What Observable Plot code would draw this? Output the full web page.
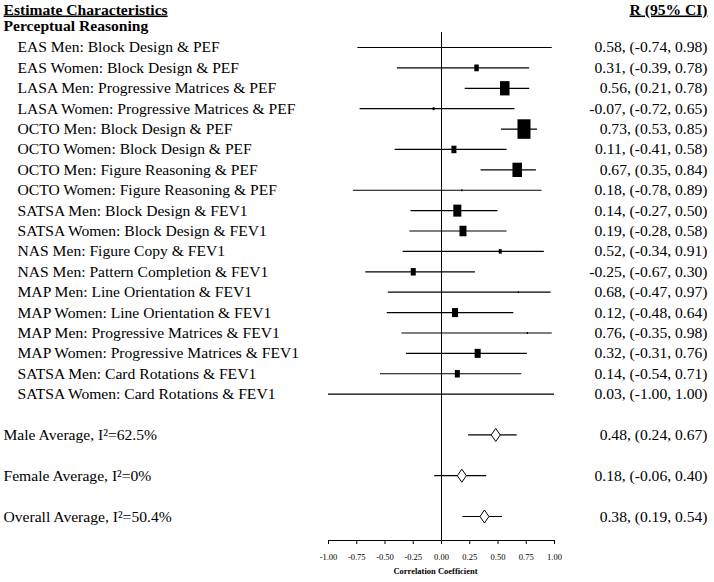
<!DOCTYPE html>
<html>
<head>
<meta charset="utf-8">
<script src="https://cdn.jsdelivr.net/npm/d3@7"></script>
<script src="https://cdn.jsdelivr.net/npm/@observablehq/plot@0.6"></script>
<style>
  body { margin: 0; background: white; }
</style>
</head>
<body>
<div id="chart"></div>
<script>
// ---- data ----
const groupLabel = "Perceptual Reasoning";
const studies = [
  "EAS Men: Block Design & PEF",
  "EAS Women: Block Design & PEF",
  "LASA Men: Progressive Matrices & PEF",
  "LASA Women: Progressive Matrices & PEF",
  "OCTO Men: Block Design & PEF",
  "OCTO Women: Block Design & PEF",
  "OCTO Men: Figure Reasoning & PEF",
  "OCTO Women: Figure Reasoning & PEF",
  "SATSA Men: Block Design & FEV1",
  "SATSA Women: Block Design & FEV1",
  "NAS Men: Figure Copy & FEV1",
  "NAS Men: Pattern Completion & FEV1",
  "MAP Men: Line Orientation & FEV1",
  "MAP Women: Line Orientation & FEV1",
  "MAP Men: Progressive Matrices & FEV1",
  "MAP Women: Progressive Matrices & FEV1",
  "SATSA Men: Card Rotations & FEV1",
  "SATSA Women: Card Rotations & FEV1"
];
const estimate = [0.58, 0.31, 0.56, -0.07, 0.73, 0.11, 0.67, 0.18, 0.14, 0.19, 0.52, -0.25, 0.68, 0.12, 0.76, 0.32, 0.14, 0.03];
const lower    = [-0.74, -0.39, 0.21, -0.72, 0.53, -0.41, 0.35, -0.78, -0.27, -0.28, -0.34, -0.67, -0.47, -0.48, -0.35, -0.31, -0.54, -1.00];
const upper    = [0.98, 0.78, 0.78, 0.65, 0.85, 0.58, 0.84, 0.89, 0.50, 0.58, 0.91, 0.30, 0.97, 0.64, 0.98, 0.76, 0.71, 1.00];
const weight   = [0.3, 4.5, 9.5, 2, 13, 5, 9.5, 1.2, 8, 7, 3, 5, 1.2, 6, 1.2, 6, 5, 0.3];

const summaryLabels = ["Male Average, I\u00B2=62.5%", "Female Average, I\u00B2=0%", "Overall Average, I\u00B2=50.4%"];
const summaryEstimate = [0.48, 0.18, 0.38];
const summaryLower = [0.24, -0.06, 0.19];
const summaryUpper = [0.67, 0.40, 0.54];

const tickValues = [-1, -0.75, -0.5, -0.25, 0, 0.25, 0.5, 0.75, 1];
const headerLeft = "Estimate Characteristics";
const headerRight = "R (95% CI)";
const axisTitle = "Correlation Coefficient";

// ---- tables ----
const fmt = (v) => v.toFixed(2);
const studyRows = studies.map((label, i) => ({
  label, r: estimate[i], lo: lower[i], hi: upper[i], w: weight[i],
  ci: `${fmt(estimate[i])}, (${fmt(lower[i])}, ${fmt(upper[i])})`
}));
const summaryRows = summaryLabels.map((label, i) => ({
  label, r: summaryEstimate[i], lo: summaryLower[i], hi: summaryUpper[i],
  ci: `${fmt(summaryEstimate[i])}, (${fmt(summaryLower[i])}, ${fmt(summaryUpper[i])})`
}));
const yDomain = [groupLabel, ...studies, "gap1", summaryLabels[0], "gap2", summaryLabels[1], "gap3", summaryLabels[2]];

// custom symbols: weighted box (taller than wide) and summary diamond
const rectSymbol = {
  draw(context, size) {
    const w = Math.sqrt(size / 1.5), h = 1.5 * w;
    context.rect(-w / 2, -h / 2, w, h);
  }
};
const diamondSymbol = {
  draw(context) {
    context.moveTo(0, -6.5);
    context.lineTo(4.5, 0);
    context.lineTo(0, 6.5);
    context.lineTo(-4.5, 0);
    context.closePath();
  }
};

const chart = Plot.plot({
  width: 714,
  height: 582,
  marginLeft: 328,
  marginRight: 160,
  marginTop: 32,
  marginBottom: 42,
  style: {fontFamily: "'Liberation Serif', 'Times New Roman', serif", fontSize: "15.6px", color: "black", background: "white"},
  x: {domain: [-1, 1], axis: null},
  y: {type: "point", domain: yDomain, range: [26.6, 516], padding: 0, round: false, axis: null},
  r: {type: "linear", domain: [0, 13], range: [0, 9]},
  marks: [
    Plot.ruleX([0], {stroke: "black", strokeWidth: 1}),
    Plot.frame({anchor: "bottom", stroke: "black"}),
    Plot.axisX({ticks: tickValues, tickFormat: fmt, tickSize: 4, tickPadding: 9, fontSize: 8.5, label: null, stroke: "black"}),
    Plot.text([axisTitle], {frameAnchor: "bottom", dx: -6, dy: 33, fontWeight: "bold", fontSize: 8.5, fill: "black"}),
    Plot.ruleY(studyRows, {y: "label", x1: "lo", x2: "hi", stroke: "black", strokeWidth: 1.2}),
    Plot.dot(studyRows, {x: "r", y: "label", r: "w", symbol: rectSymbol, fill: "black", stroke: null}),
    Plot.ruleY(summaryRows, {y: "label", x1: "lo", x2: "hi", stroke: "black", strokeWidth: 1.2}),
    Plot.dot(summaryRows, {x: "r", y: "label", r: 5, symbol: diamondSymbol, fill: "white", stroke: "black", strokeWidth: 1}),
    // left column
    Plot.text([headerLeft], {frameAnchor: "top-left", lineAnchor: "middle", dx: -325, dy: -23, textAnchor: "start", fontWeight: "bold", fill: "black"}),
    Plot.text([groupLabel], {y: (d) => d, frameAnchor: "left", dx: -325, dy: -1, textAnchor: "start", fontWeight: "bold", fill: "black"}),
    Plot.text(studyRows, {y: "label", text: "label", frameAnchor: "left", dx: -311, textAnchor: "start", fill: "black"}),
    Plot.text(summaryRows, {y: "label", text: "label", frameAnchor: "left", dx: -325, textAnchor: "start", fill: "black"}),
    // right column
    Plot.text([headerRight], {frameAnchor: "top-right", lineAnchor: "middle", dx: 153, dy: -23, textAnchor: "end", fontWeight: "bold", fill: "black"}),
    Plot.text(studyRows, {y: "label", text: "ci", frameAnchor: "right", dx: 153, textAnchor: "end", fill: "black"}),
    Plot.text(summaryRows, {y: "label", text: "ci", frameAnchor: "right", dx: 153, textAnchor: "end", fill: "black"})
  ]
});

d3.select(chart).selectAll("text").each(function() {
  const t = this.textContent;
  if (t === headerLeft || t === headerRight) this.style.textDecoration = "underline";
});

document.getElementById("chart").appendChild(chart);
</script>
</body>
</html>
